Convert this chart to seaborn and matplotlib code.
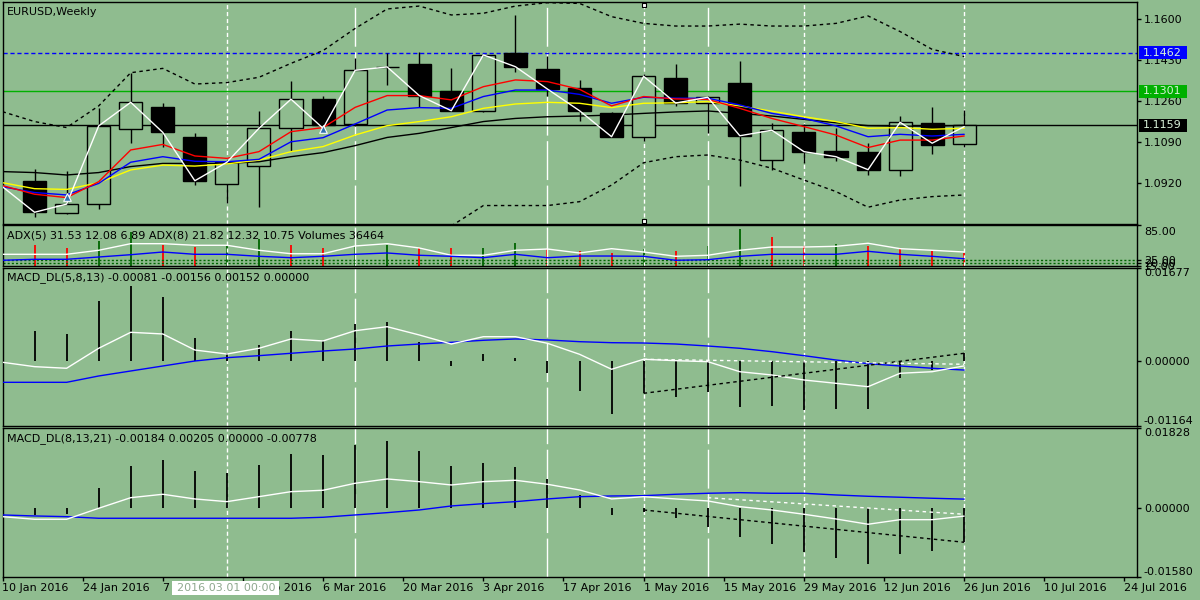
import numpy as np
import pandas as pd
import matplotlib
matplotlib.use("Agg")
import matplotlib.pyplot as plt
import seaborn as sns
from matplotlib.patches import Rectangle
from matplotlib.transforms import blended_transform_factory, ScaledTranslation

# ---------------- data ----------------
bars = list(range(30))
line_x = list(range(-1, 30))

opens  = [1.0928, 1.0794, 1.0831, 1.1143, 1.1234, 1.1111, 1.0914, 1.0992, 1.1147, 1.1268,
          1.1164, 1.1401, 1.1414, 1.1302, 1.1218, 1.1461, 1.1393, 1.1313, 1.1211, 1.1112,
          1.1356, 1.1251, 1.1335, 1.1014, 1.1132, 1.1053, 1.1047, 1.0972, 1.1170, 1.1080]
highs  = [1.0977, 1.0970, 1.1233, 1.1376, 1.1251, 1.1126, 1.1019, 1.1219, 1.1344, 1.1283,
          1.1438, 1.1459, 1.1463, 1.1398, 1.1456, 1.1618, 1.1448, 1.1348, 1.1215, 1.1373,
          1.1414, 1.1281, 1.1427, 1.1168, 1.1163, 1.1147, 1.1085, 1.1198, 1.1237, 1.1222]
lows   = [1.0777, 1.0790, 1.0812, 1.1085, 1.1068, 1.0910, 1.0835, 1.0821, 1.1054, 1.1157,
          1.1157, 1.1326, 1.1236, 1.1219, 1.1215, 1.1382, 1.1283, 1.1179, 1.1109, 1.1096,
          1.1241, 1.1129, 1.0908, 1.0974, 1.1002, 1.1011, 1.0954, 1.0950, 1.1040, 1.1069]
closes = [1.0798, 1.0832, 1.1157, 1.1255, 1.1130, 1.0929, 1.1006, 1.1147, 1.1268, 1.1160,
          1.1388, 1.1402, 1.1283, 1.1220, 1.1452, 1.1403, 1.1310, 1.1220, 1.1112, 1.1363,
          1.1252, 1.1276, 1.1116, 1.1139, 1.1050, 1.1029, 1.0975, 1.1172, 1.1079, 1.1159]

# indicator lines on the price chart (first value = bar before the window)
white_line = [1.0904, 1.0798, 1.0832, 1.1157, 1.1255, 1.1130, 1.0929, 1.1006, 1.1147, 1.1268, 1.1147,
              1.1388, 1.1402, 1.1283, 1.1220, 1.1452, 1.1403, 1.1310, 1.1220, 1.1112, 1.1363,
              1.1252, 1.1276, 1.1116, 1.1139, 1.1050, 1.1029, 1.0975, 1.1172, 1.1085, 1.1154]
ma_red    = [1.0909, 1.0873, 1.0859, 1.0925, 1.1057, 1.1080, 1.1032, 1.1022, 1.1050, 1.1133, 1.1150,
             1.1234, 1.1283, 1.1283, 1.1265, 1.1320, 1.1348, 1.1341, 1.1309, 1.1240, 1.1279,
             1.1269, 1.1267, 1.1230, 1.1188, 1.1154, 1.1119, 1.1067, 1.1098, 1.1098, 1.1115]
ma_blue   = [1.0904, 1.0880, 1.0870, 1.0918, 1.1006, 1.1029, 1.1010, 1.1008, 1.1018, 1.1091, 1.1108,
             1.1165, 1.1223, 1.1233, 1.1230, 1.1279, 1.1306, 1.1306, 1.1288, 1.1251, 1.1276,
             1.1272, 1.1272, 1.1244, 1.1209, 1.1188, 1.1157, 1.1112, 1.1122, 1.1115, 1.1122]
ma_yellow = [1.0921, 1.0896, 1.0893, 1.0921, 1.0974, 1.0994, 1.0990, 1.0999, 1.1015, 1.1050, 1.1071,
             1.1119, 1.1158, 1.1175, 1.1195, 1.1230, 1.1248, 1.1255, 1.1251, 1.1233, 1.1251,
             1.1253, 1.1258, 1.1240, 1.1218, 1.1195, 1.1175, 1.1147, 1.1150, 1.1143, 1.1147]
ma_black  = [1.0967, 1.0963, 1.0953, 1.0963, 1.0988, 1.1001, 1.1001, 1.1001, 1.1008, 1.1029, 1.1046,
             1.1075, 1.1109, 1.1126, 1.1150, 1.1175, 1.1188, 1.1195, 1.1198, 1.1202, 1.1209,
             1.1215, 1.1219, 1.1209, 1.1198, 1.1184, 1.1170, 1.1158, 1.1156, 1.1156, 1.1159]
band_upper = [1.1216, 1.1175, 1.1150, 1.1240, 1.1378, 1.1396, 1.1331, 1.1337, 1.1359, 1.1417, 1.1470,
              1.1562, 1.1643, 1.1655, 1.1618, 1.1625, 1.1655, 1.1669, 1.1666, 1.1611, 1.1583,
              1.1572, 1.1572, 1.1580, 1.1572, 1.1572, 1.1583, 1.1614, 1.1549, 1.1475, 1.1445]
band_lower = [np.nan] * 14 + [1.0741, 1.0826, 1.0826, 1.0826, 1.0842, 1.0911, 1.1004,
              1.1029, 1.1036, 1.1015, 1.0981, 1.0932, 1.0884, 1.0819, 1.0849, 1.0863, 1.0870]

level_blue, level_green, level_black = 1.1462, 1.1301, 1.1159
arrow_bars = [1, 9]
arrow_prices = [1.0863, 1.1143]
price_ticks = [1.1600, 1.1430, 1.1260, 1.1090, 1.0920]

# ADX / volumes
adx_white = [34.5, 34.5, 34.5, 41.5, 53.0, 53.0, 50.2, 50.2, 41.5, 35.5, 35.5, 49.0, 53.0, 45.5, 32.8, 32.8,
             41.5, 43.7, 36.8, 44.3, 38.5, 31.0, 32.8, 41.5, 47.2, 47.2, 48.4, 53.7, 44.3, 41.5, 38.5]
adx_blue = [24.1, 25.8, 25.8, 29.8, 33.8, 38.5, 34.5, 34.5, 31.0, 28.6, 31.0, 34.5, 36.8, 32.8, 31.0, 28.6,
            34.5, 28.6, 31.5, 31.5, 31.0, 24.1, 25.1, 31.0, 34.5, 34.5, 34.5, 39.7, 34.5, 31.0, 26.8]
adx_levels = [20, 25]
adx_ticks = [15, 20, 25, 85]
volumes = [59400, 50800, 70100, 96800, 57400, 53700, 55700, 76700, 59400, 48800,
           55700, 57400, 50800, 48800, 50800, 63200, 45900, 40200, 36460, 45900,
           42200, 55700, 105400, 82400, 56600, 60300, 56600, 48800, 42200, 36464]

# MACD_DL(5,8,13)
m1_hist = [0.00548, 0.00494, 0.01088, 0.01364, 0.01160, 0.00422, 0.00146, 0.00295, 0.00548, 0.00368,
           0.00674, 0.00704, 0.00344, -0.00078, 0.00133, 0.00061, -0.00203, -0.00533, -0.00948, -0.00575,
           -0.00636, -0.00546, -0.00816, -0.00798, -0.00876, -0.00858, -0.00858, -0.00304, -0.00155, 0.00152]
m1_white = [-0.00016, -0.00095, -0.00124, 0.00236, 0.00524, 0.00494, 0.00205, 0.00133, 0.00236, 0.00404,
            0.00368, 0.00553, 0.00625, 0.00476, 0.00313, 0.00445, 0.00445, 0.00326, 0.00128, -0.00142,
            0.00038, 0.00013, -0.00005, -0.00186, -0.00245, -0.00335, -0.00395, -0.00456, -0.00214,
            -0.00186, -0.00081]
m1_blue = [-0.00377, -0.00377, -0.00377, -0.00263, -0.00173, -0.00083, 0.00007, 0.00067, 0.00103, 0.00146,
           0.00187, 0.00223, 0.00277, 0.00313, 0.00344, 0.00380, 0.00404, 0.00386, 0.00355, 0.00337,
           0.00331, 0.00313, 0.00277, 0.00236, 0.00175, 0.00103, 0.00025, -0.00041, -0.00083, -0.00124,
           -0.00156]
m1_div_bars = [19, 29]
m1_div_black = [-0.00575, 0.00146]
m1_div_white = [0.00038, -0.00052]
m1_range = (-0.01164, 0.01677)

# MACD_DL(8,13,21)
m2_hist = [-0.00158, -0.00143, 0.00468, 0.00965, 0.01109, 0.00850, 0.00811, 0.00988, 0.01240, 0.01217,
           0.01446, 0.01545, 0.01316, 0.00965, 0.01041, 0.00942, 0.00667, 0.00300, -0.00158, -0.00100,
           -0.00234, -0.00426, -0.00655, -0.00823, -0.01013, -0.01137, -0.01288, -0.01045, -0.00983, -0.00778]
m2_white = [-0.00197, -0.00257, -0.00257, -0.00005, 0.00238, 0.00316, 0.00209, 0.00147, 0.00261, 0.00376,
            0.00408, 0.00568, 0.00667, 0.00605, 0.00529, 0.00605, 0.00637, 0.00545, 0.00415, 0.00209,
            0.00261, 0.00209, 0.00163, 0.00032, -0.00044, -0.00142, -0.00250, -0.00371, -0.00266,
            -0.00266, -0.00184]
m2_blue = [-0.00158, -0.00181, -0.00197, -0.00234, -0.00234, -0.00234, -0.00234, -0.00234, -0.00234, -0.00234,
           -0.00211, -0.00158, -0.00105, -0.00044, 0.00048, 0.00101, 0.00147, 0.00209, 0.00261, 0.00277,
           0.00284, 0.00316, 0.00339, 0.00353, 0.00339, 0.00339, 0.00300, 0.00270, 0.00248, 0.00225,
           0.00205]
m2_div_black_bars = [19, 29]
m2_div_black = [-0.00044, -0.00784]
m2_div_white_bars = [21, 29]
m2_div_white = [0.00238, -0.00142]
m2_range = (-0.01580, 0.01828)

sep_short = [6, 19, 24, 29]
sep_long = [10, 16, 21]

date_tick_bars = [-1 + 2.5 * k for k in range(15)]
date_labels = ["10 Jan 2016", "24 Jan 2016", "7 Feb 2016", "21 Feb 2016", "6 Mar 2016",
               "20 Mar 2016", "3 Apr 2016", "17 Apr 2016", "1 May 2016", "15 May 2016",
               "29 May 2016", "12 Jun 2016", "26 Jun 2016", "10 Jul 2016", "24 Jul 2016"]

# ---------------- style ----------------
BG = "#8FBC8F"
sns.set_theme(style="white")
plt.rcParams['font.family'] = ['DejaVu Sans']
plt.rcParams['axes.linewidth'] = 1.0
FS = 8

fig = plt.figure(figsize=(12, 6), dpi=100, facecolor=BG)
L, W = 2.5 / 1200, 1134.5 / 1200


def rect(top, bottom):
    return [L, 1 - bottom / 600, W, (bottom - top) / 600]


ax_main = fig.add_axes(rect(2, 223.7))
ax_adx = fig.add_axes(rect(225.3, 265.5))
ax_m1 = fig.add_axes(rect(268.3, 426))
ax_m2 = fig.add_axes(rect(428.3, 577))
XLIM = (-1.0, 34.39)


def right_ticks(ax):
    ax.yaxis.set_ticks_position("right")
    ax.tick_params(axis="y", which="both", direction="out", length=3, width=1, colors="black",
                   labelsize=FS, pad=2, left=False, labelleft=False, right=True, labelright=True)


for ax in (ax_main, ax_adx, ax_m1, ax_m2):
    ax.set_facecolor(BG)
    ax.set_xlim(*XLIM)
    for s in ax.spines.values():
        s.set_color("black")
        s.set_linewidth(1.0)
    right_ticks(ax)
    ax.tick_params(axis="x", bottom=False, labelbottom=False)
    for b in sep_short:
        ax.axvline(b, color="white", lw=1, ls=(0, (3, 2)), zorder=1)
    for b in sep_long:
        ax.axvline(b, color="white", lw=1, ls=(0, (28, 4)), zorder=1)


def line(ax, x, y, color, lw=1.0, z=3, **kw):
    d = pd.DataFrame({"x": x, "y": y}).dropna()
    sns.lineplot(data=d, x="x", y="y", ax=ax, color=color, lw=lw, legend=False,
                 estimator=None, zorder=z, **kw)
    ax.set_xlabel("")
    ax.set_ylabel("")

# ---------------- main chart ----------------
ax = ax_main
ax.set_ylim(1.07505, 1.16719)
ax.axhline(level_green, color="#00B000", lw=1, zorder=1)
ax.axhline(level_black, color="black", lw=1, zorder=1)
ax.axhline(level_blue, color="#0000FF", lw=1, ls=(0, (3, 2)), zorder=1)
line(ax, line_x, band_upper, "black", lw=1, ls=(0, (2.5, 2.5)), z=2)
line(ax, line_x, band_lower, "black", lw=1, ls=(0, (2.5, 2.5)), z=2)

o = np.array(opens); c = np.array(closes)
bull = c >= o
ax.vlines(bars, lows, highs, color="black", lw=1, zorder=4)
bx = np.array(bars)
ax.bar(bx[~bull], (o - c)[~bull], bottom=c[~bull], width=0.72, color="black",
       edgecolor="black", lw=1, zorder=5)
ax.bar(bx[bull], np.maximum((c - o)[bull], 0.00012), bottom=o[bull], width=0.72, color=BG,
       edgecolor="black", lw=1, zorder=5)

line(ax, line_x, ma_black, "black", z=6)
line(ax, line_x, ma_yellow, "#FFFF00", z=6)
line(ax, line_x, ma_blue, "#0000FF", z=6)
line(ax, line_x, ma_red, "#FF0000", z=6)
line(ax, line_x, white_line, "white", z=7)
ax.scatter(arrow_bars, arrow_prices, marker="^", s=30, color="#2F6FB0", edgecolors="white",
           linewidths=0.8, zorder=8)
ax.scatter([19, 19], [1.1660, 1.0760], marker="s", s=10, color="white", edgecolors="black",
           linewidths=0.8, zorder=8, clip_on=False)

ax.set_yticks(price_ticks)
ax.set_yticklabels([f"{v:.4f}" for v in price_ticks])
tr = blended_transform_factory(ax.transAxes, ax.transData)
for val, fc in ((level_blue, "#0000FF"), (level_green, "#00B000"), (level_black, "black")):
    ax.add_patch(Rectangle((1.0015, val - 0.0027), 0.0425, 0.0054, transform=tr,
                           facecolor=fc, edgecolor="none", clip_on=False, zorder=20))
    ax.text(1.0055, val, f"{val:.4f}", transform=tr, ha="left", va="center",
            fontsize=FS, color="#D8F0D8", zorder=21, clip_on=False)

fig.text(7 / 1200, 1 - 12 / 600, "EURUSD,Weekly", fontsize=FS, ha="left", va="center", color="black")

# ---------------- ADX / volumes ----------------
ax = ax_adx
ax.set_ylim(15, 85)
for lv in adx_levels:
    ax.axhline(lv, color="#006400", lw=1, ls=(0, (1.5, 1.5)), zorder=2)
axv = ax.twinx()
axv.set_xlim(*XLIM)
axv.set_ylim(0, 115000)
axv.axis("off")
vcol = ["#FF0000"] + ["#006400" if volumes[i] > volumes[i - 1] else "#FF0000" for i in range(1, len(volumes))]
axv.vlines(bars, 0, volumes, colors=vcol, lw=1.3, zorder=3)
line(ax, line_x, adx_white, "white", z=4)
line(ax, line_x, adx_blue, "#0000FF", z=4)
ax.set_zorder(axv.get_zorder() + 1)
ax.patch.set_visible(False)
axv.patch.set_visible(False)
right_ticks(ax)
ax.set_yticks(adx_ticks)
ax.set_yticklabels([f"{t:.2f}" for t in adx_ticks])
top_lab = ax.get_yticklabels()[-1]
top_lab.set_va("center")
top_lab.set_transform(top_lab.get_transform() + ScaledTranslation(0, -7 / 100, fig.dpi_scale_trans))
fig.text(7 / 1200, 1 - 236 / 600,
         "ADX(5) 31.53 12.08 6.89 ADX(8) 21.82 12.32 10.75 Volumes 36464",
         fontsize=FS, ha="left", va="center", color="black")

# ---------------- MACD panels ----------------
def macd_panel(ax, hist, white, blue, rng, title, ytext):
    ax.set_ylim(*rng)
    ax.vlines(bars, 0, hist, color="black", lw=1.3, zorder=3)
    line(ax, line_x, blue, "#0000FF", z=4)
    line(ax, line_x, white, "white", z=5)
    ticks = [rng[0], 0.0, rng[1]]
    ax.set_yticks(ticks)
    ax.set_yticklabels([f"{t:.5f}" for t in ticks])
    labs = ax.get_yticklabels()
    labs[0].set_va("bottom")
    labs[-1].set_va("top")
    fig.text(7 / 1200, 1 - ytext / 600, title, fontsize=FS, ha="left", va="center", color="black")


macd_panel(ax_m1, m1_hist, m1_white, m1_blue, m1_range,
           "MACD_DL(5,8,13) -0.00081 -0.00156 0.00152 0.00000", 278)
line(ax_m1, m1_div_bars, m1_div_black, "black", lw=1, z=6, ls=(0, (2.5, 2.5)))
line(ax_m1, m1_div_bars, m1_div_white, "white", lw=1, z=6, ls=(0, (2.5, 2.5)))

macd_panel(ax_m2, m2_hist, m2_white, m2_blue, m2_range,
           "MACD_DL(8,13,21) -0.00184 0.00205 0.00000 -0.00778", 439)
line(ax_m2, m2_div_black_bars, m2_div_black, "black", lw=1, z=6, ls=(0, (2.5, 2.5)))
line(ax_m2, m2_div_white_bars, m2_div_white, "white", lw=1, z=6, ls=(0, (2.5, 2.5)))

ax = ax_m2
ax.tick_params(axis="x", bottom=True, labelbottom=True, direction="out", length=3, width=1,
               colors="black", labelsize=FS, pad=1.5)
ax.set_xticks(date_tick_bars)
ax.set_xticklabels(date_labels)
for lb in ax.get_xticklabels():
    lb.set_ha("left")
ax.set_xlim(*XLIM)

# time label box of the selected vertical line
fig.add_artist(Rectangle((172 / 1200, 1 - 595 / 600), 107 / 1200, 14 / 600,
                         transform=fig.transFigure, facecolor="white", edgecolor="none", zorder=10))
fig.text(226 / 1200, 1 - 588 / 600, "2016.03.01 00:00", fontsize=FS, ha="center", va="center",
         color="#8FA88F", zorder=11)

fig.savefig("out.png", dpi=100, facecolor=BG)
